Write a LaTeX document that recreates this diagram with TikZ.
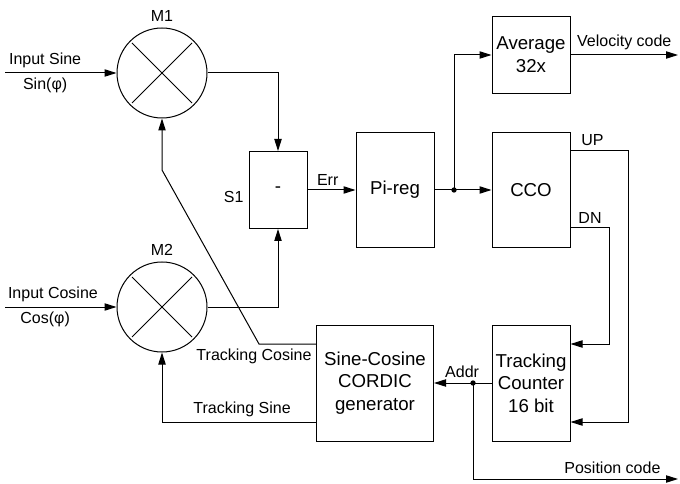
\documentclass[tikz,border=0pt]{standalone}
\usepackage{fontspec}
\setmainfont{Liberation Sans}
\usetikzlibrary{arrows.meta}

\begin{document}
\begin{tikzpicture}[x=0.75pt,y=-0.75pt,line width=0.75pt,
   lbl/.style={font=\fontsize{12}{14}\selectfont},
   block/.style={draw,inner sep=0pt,align=center,minimum width=58.5pt,font=\fontsize{14}{17}\selectfont},
   mixer/.style={draw,circle,inner sep=0pt,minimum size=67.5pt},
   arr/.style={-{Triangle[length=9pt,width=5.5pt]}},
   every label/.style={lbl}]
   \useasboundingbox (0,0) rectangle (680,484);

   % mixers
   \node[mixer,label={[label distance=1pt]above:M1}] (m1) at (162,73) {};
   \node[mixer,label={[label distance=1pt]above:M2}] (m2) at (162,307) {};
   \foreach \m in {m1,m2} {
     \draw ([shift={(-30,-30)}]\m.center) -- ([shift={(30,30)}]\m.center);
     \draw ([shift={(-30,30)}]\m.center) -- ([shift={(30,-30)}]\m.center);
   }

   % blocks
   \node[block,minimum width=43.5pt,minimum height=57.75pt,label={[yshift=-5pt]left:S1}] (s1) at (278,190) {-};
   \node[block,minimum height=86.25pt] (pireg) at (395,190) {Pi-reg};
   \node[block,minimum height=57.75pt] (avg) at (531,55) {Average\\32x};
   \node[block,minimum height=86.25pt] (cco) at (531,190) {CCO};
   \node[block,minimum height=87pt] (counter) at (531,383) {Tracking\\Counter\\16 bit};
   \node[block,minimum width=87.75pt,minimum height=87pt] (cordic) at (375,383) {Sine-Cosine\\CORDIC\\generator};

   \coordinate (insin) at (5,73);
   \coordinate (incos) at (5,307);
   \coordinate (split) at (454,190);
   \coordinate (velo) at (678,55);
   \coordinate (addr) at (473,383);
   \coordinate (posn) at (678,479);
   \coordinate (tc1) at (259,344);
   \coordinate (tc2) at (162,170);

   % inputs
   \draw[arr] (insin) -- node[lbl,above,pos=0.36]{Input Sine} node[lbl,below,pos=0.36]{Sin(φ)} (m1.west);
   \draw[arr] (incos) -- node[lbl,above,pos=0.43]{Input Cosine} node[lbl,below,pos=0.36]{Cos(φ)} (m2.west);

   \draw[arr] (m1.east) -| (s1.north);
   \draw[arr] (m2.east) -| (s1.south);
   \draw[arr] (s1.east) -- node[lbl,above,pos=0.42]{Err} (pireg.west);

   \draw (pireg.east) -- (split);
   \draw[arr] (split) -- (cco.west);
   \draw[arr] (split) |- (avg.west);
   \fill (split) circle (2pt);
   \draw[arr] (avg.east) -- node[lbl,above]{Velocity code} (velo);

   % UP / DN
   \draw[arr] ([yshift=29.25pt]cco.east) -- node[lbl,above,pos=0.38]{UP} ++(43.5pt,0) |- ([yshift=-29.25pt]counter.east);
   \draw[arr] ([yshift=-28.5pt]cco.east) -- node[lbl,above,pos=0.5]{DN} ++(29.25pt,0) |- ([yshift=29.25pt]counter.east);

   \draw (counter.west) -- (addr);
   \draw[arr] (addr) -- node[lbl,above,pos=0.28]{Addr} (cordic.east);
   \fill (addr) circle (2pt);
   \draw[arr] (addr) |- node[lbl,above,pos=0.84]{Position code} (posn);

   % tracking feedback
   \draw[arr] ([yshift=29.25pt]cordic.west) -- node[lbl,pos=0,anchor=north east,inner sep=3pt]{Tracking Cosine} (tc1) -- (tc2) -- (m1.south);
   \draw[arr] ([yshift=-29.25pt]cordic.west) -| node[lbl,above,pos=0.24]{Tracking Sine} (m2.south);

\end{tikzpicture}
\end{document}
